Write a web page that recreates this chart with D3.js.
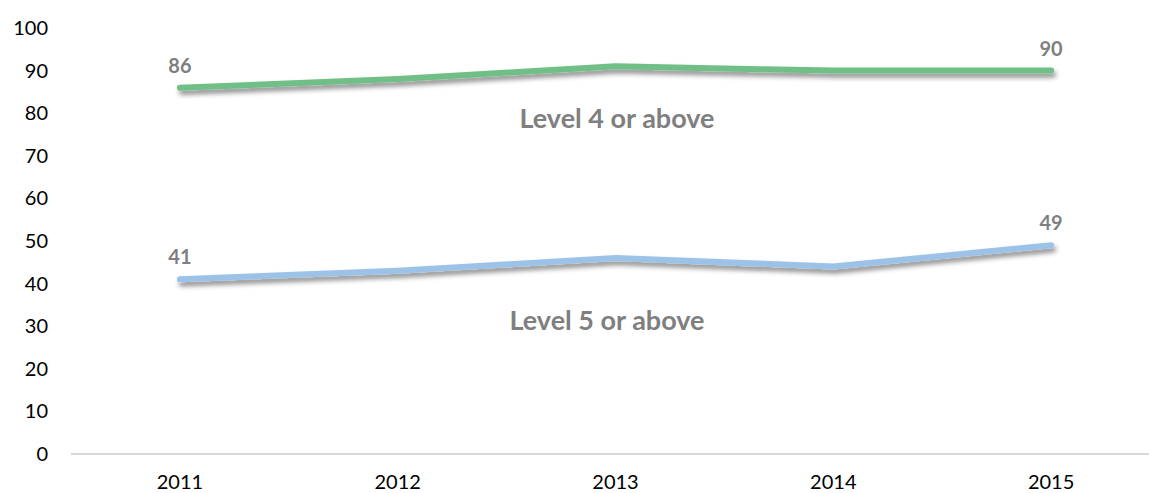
<!DOCTYPE html>
<html>
<head>
<meta charset="utf-8">
<script src="https://cdn.jsdelivr.net/npm/d3@7"></script>
<style>
  body { margin: 0; background: #fff; }
  text { font-family: Lato, "Open Sans", sans-serif; }
</style>
</head>
<body>
<script>
var years = ["2011", "2012", "2013", "2014", "2015"];
var level4 = [86, 88, 91, 90, 90];
var level5 = [41, 43, 46, 44, 49];
var yTicks = [0, 10, 20, 30, 40, 50, 60, 70, 80, 90, 100];

var width = 1149, height = 493;

var svg = d3.select("body").append("svg")
  .attr("width", width)
  .attr("height", height);

// soft shadow under the lines
var defs = svg.append("defs");
var f = defs.append("filter").attr("id", "shadow")
  .attr("x", "-5%").attr("y", "-50%").attr("width", "110%").attr("height", "200%");
f.append("feDropShadow")
  .attr("dx", 2).attr("dy", 4).attr("stdDeviation", 2.5)
  .attr("flood-color", "#000").attr("flood-opacity", 0.45);

var x = d3.scaleBand().domain(years).range([71, 1160]);
var y = d3.scaleLinear().domain([0, 100]).range([454, 28]);

// y tick labels
svg.append("g").selectAll("text").data(yTicks).enter().append("text")
  .attr("x", 48)
  .attr("y", function(d){ return y(d); })
  .attr("dy", ".35em")
  .attr("text-anchor", "end")
  .attr("font-size", 20)
  .attr("fill", "#000")
  .text(function(d){ return d; });

// x axis line
svg.append("line")
  .attr("x1", 71).attr("x2", width)
  .attr("y1", y(0)).attr("y2", y(0))
  .attr("stroke", "#d9d9d9").attr("stroke-width", 2);

svg.append("g").selectAll("text").data(years).enter().append("text")
  .attr("x", function(d){ return x(d) + x.bandwidth()/2; })
  .attr("y", 489)
  .attr("text-anchor", "middle")
  .attr("font-size", 20)
  .attr("fill", "#000")
  .text(function(d){ return d; });

var line = d3.line()
  .x(function(d, i){ return x(years[i]) + x.bandwidth()/2; })
  .y(function(d){ return y(d); });

var series = [
  {name: "Level 4 or above", values: level4, color: "#70bf86", lx: 617, ly: 119},
  {name: "Level 5 or above", values: level5, color: "#9cc3e7", lx: 607, ly: 321}
];

series.forEach(function(s){
  svg.append("path")
    .datum(s.values)
    .attr("d", line)
    .attr("fill", "none")
    .attr("stroke", s.color)
    .attr("stroke-width", 6)
    .attr("stroke-linecap", "round")
    .attr("stroke-linejoin", "round")
    .attr("filter", "url(#shadow)");

  // first and last values
  [0, s.values.length - 1].forEach(function(i){
    svg.append("text")
      .attr("x", x(years[i]) + x.bandwidth()/2)
      .attr("y", y(s.values[i]) - 22)
      .attr("dy", ".35em")
      .attr("text-anchor", "middle")
      .attr("font-size", 20)
      .attr("font-weight", "bold")
      .attr("fill", "#7f7f7f")
      .text(s.values[i]);
  });

  svg.append("text")
    .attr("x", s.lx)
    .attr("y", s.ly)
    .attr("dy", ".35em")
    .attr("text-anchor", "middle")
    .attr("font-size", 27)
    .attr("font-weight", "bold")
    .attr("fill", "#7f7f7f")
    .text(s.name);
});
</script>
</body>
</html>
